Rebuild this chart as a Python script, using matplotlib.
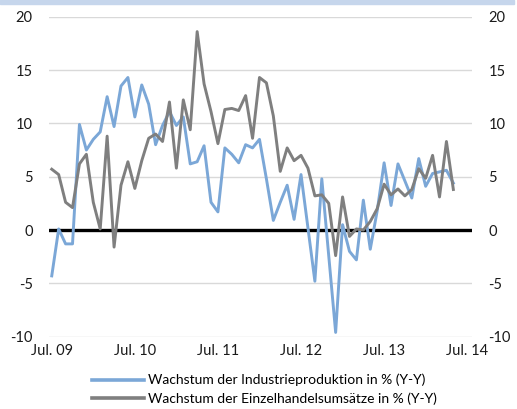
import matplotlib
matplotlib.use('Agg')
import matplotlib.pyplot as plt
from matplotlib.patches import Rectangle

# monthly values, Jul 2009 .. May 2014
industrie = [-4.3, 0.1, -1.3, -1.3, 9.9, 7.5, 8.5, 9.2, 12.5, 9.7,
             13.5, 14.3, 10.6, 13.6, 11.8, 8.0, 9.8, 11.1, 9.8, 10.6,
             6.2, 6.4, 7.9, 2.6, 1.7, 7.7, 7.1, 6.3, 8.0, 7.7,
             8.5, 4.8, 0.9, 2.6, 4.2, 1.0, 5.2, 0.2, -4.8, 4.8,
             -2.4, -9.6, 0.5, -2.0, -2.8, 2.8, -1.8, 1.8, 6.3, 2.3,
             6.2, 4.6, 3.0, 6.7, 4.1, 5.3, 5.45, 5.6, 4.4]
einzelhandel = [5.7, 5.2, 2.6, 2.1, 6.2, 7.1, 2.6, 0.1, 8.8, -1.6,
                4.2, 6.4, 3.9, 6.5, 8.6, 9.0, 8.3, 12.0, 5.8, 12.2,
                9.4, 18.6, 13.7, 11.1, 8.1, 11.3, 11.4, 11.2, 12.6, 8.6,
                14.3, 13.8, 10.7, 5.5, 7.7, 6.5, 7.0, 5.8, 3.2, 3.3,
                2.5, -2.4, 3.1, -0.6, 0.1, 0.0, 0.8, 2.0, 4.3, 3.3,
                3.85, 3.2, 3.8, 5.75, 4.85, 7.0, 3.1, 8.3, 3.8]
tick_labels = ['Jul. 09', 'Jul. 10', 'Jul. 11', 'Jul. 12', 'Jul. 13', 'Jul. 14']
labels = ['Wachstum der Industrieproduktion in % (Y-Y)',
          'Wachstum der Einzelhandelsumsätze in % (Y-Y)']

plt.rcParams['font.family'] = ['Lato', 'DejaVu Sans']
plt.rcParams['font.size'] = 10.5
plt.rcParams['axes.unicode_minus'] = False

fig = plt.figure(figsize=(5.17, 4.09), dpi=100)
fig.patches.append(Rectangle((0, 0.99), 0.995, 0.01, transform=fig.transFigure,
                             color='#c6d6ec', zorder=0))
ax = fig.add_axes([0.0954, 0.1768, 0.817, 0.7824])

months = list(range(len(industrie)))
ax.plot(months, industrie, color='#7ba7d7', lw=2.1, zorder=3, label=labels[0])
ax.plot(months, einzelhandel, color='#7f7f7f', lw=2.1, zorder=3, label=labels[1])
ax.axhline(0, color='black', lw=2.4, zorder=2)

ax.set_ylim(-10, 20)
ax.set_xlim(-0.35, 60.65)
ax.set_yticks(range(-10, 25, 5))
ax.set_xticks(range(0, 61, 12))
ax.set_xticklabels(tick_labels)
ax.grid(axis='y', color='#d9d9d9', lw=1.0)
ax.set_axisbelow(True)
for s in ax.spines.values():
    s.set_visible(False)
ax.tick_params(axis='both', length=0, colors='#1a1a1a')
ax.tick_params(axis='y', pad=12, labelleft=True, labelright=True)
ax.tick_params(axis='x', pad=5)

leg = fig.legend(loc='upper left', bbox_to_anchor=(0.178, 0.086), frameon=False,
                 fontsize=10, handlelength=3.75, handletextpad=0.3,
                 labelspacing=0.45, borderaxespad=0, borderpad=0)
for line in leg.get_lines():
    line.set_linewidth(2.6)

fig.savefig('out.png', dpi=100)
